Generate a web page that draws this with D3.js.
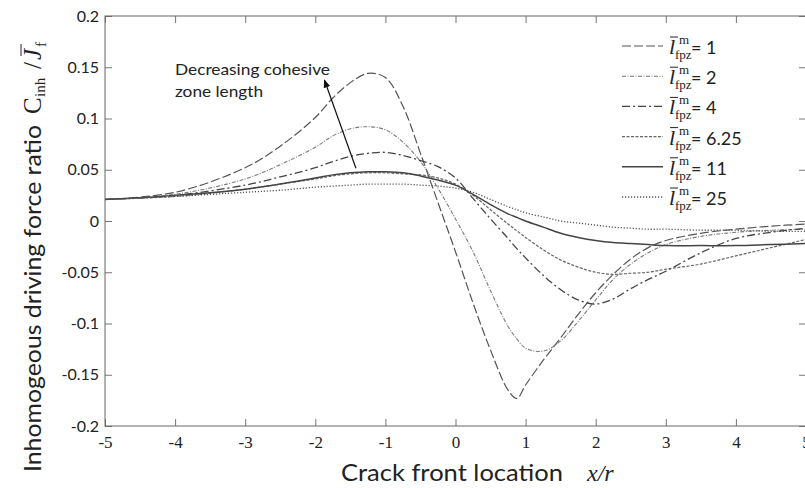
<!DOCTYPE html>
<html lang="en">
  <head>
    <meta charset="UTF-8" />
    <title>Inhomogeneous driving force ratio</title>
    <style>
        body{ margin:0; background:#fff; }
        .axis line{ stroke:#777; stroke-width:1; }
        .axis path{ display:none; }
    </style>
    <script src="https://d3js.org/d3.v7.min.js"></script>
  </head>
  <body>
    <div id="chart"></div>
    <script>
        // crack front location x/r (shared by every curve)
        const xs = [-5,-4,-3,-2.5,-2,-1.75,-1.5,-1.25,-1,-0.75,-0.5,-0.25,0,0.25,0.5,0.75,0.875,1,1.25,1.5,1.75,2,2.25,2.5,2.75,3,3.5,4,4.5,5];
        // C_inh / J_f for each cohesive zone length
        const lfpz1  = [0.021,0.028,0.052,0.073,0.101,0.120,0.135,0.144,0.140,0.112,0.066,0.018,-0.030,-0.080,-0.126,-0.165,-0.173,-0.160,-0.136,-0.114,-0.091,-0.070,-0.052,-0.037,-0.026,-0.019,-0.012,-0.008,-0.005,-0.003];
        const lfpz2  = [0.021,0.026,0.041,0.055,0.072,0.083,0.090,0.092,0.089,0.077,0.058,0.032,0.002,-0.030,-0.068,-0.103,-0.115,-0.124,-0.127,-0.117,-0.098,-0.077,-0.057,-0.042,-0.031,-0.023,-0.015,-0.011,-0.009,-0.008];
        const lfpz4  = [0.021,0.025,0.035,0.043,0.052,0.058,0.063,0.066,0.067,0.064,0.059,0.053,0.042,0.022,0.002,-0.017,-0.027,-0.036,-0.053,-0.067,-0.077,-0.081,-0.076,-0.066,-0.057,-0.049,-0.031,-0.017,-0.011,-0.007];
        const lfpz625= [0.021,0.024,0.031,0.036,0.041,0.044,0.046,0.047,0.047,0.046,0.045,0.042,0.036,0.025,0.011,-0.003,-0.0095,-0.016,-0.028,-0.038,-0.045,-0.050,-0.052,-0.051,-0.050,-0.047,-0.042,-0.034,-0.026,-0.018];
        const lfpz11 = [0.021,0.025,0.031,0.036,0.042,0.045,0.047,0.048,0.048,0.047,0.044,0.040,0.035,0.026,0.016,0.007,0.0035,0.000,-0.006,-0.012,-0.016,-0.019,-0.021,-0.022,-0.023,-0.024,-0.024,-0.024,-0.023,-0.022];
        const lfpz25 = [0.021,0.024,0.028,0.030,0.033,0.034,0.035,0.036,0.036,0.036,0.035,0.034,0.032,0.028,0.021,0.014,0.011,0.008,0.004,0.000,-0.002,-0.004,-0.006,-0.007,-0.008,-0.008,-0.009,-0.009,-0.010,-0.010];
        const legendLabels = ["1","2","4","6.25","11","25"];
        const xTicks = [-5,-4,-3,-2,-1,0,1,2,3,4,5];
        const yTicks = [0.2,0.15,0.1,0.05,0,-0.05,-0.1,-0.15,-0.2];
        // arrow of the annotation, in data units: tail then head
        const arrowPts = [[-1.42,0.0514],[-1.87,0.1376]];

        const series = [lfpz1, lfpz2, lfpz4, lfpz625, lfpz11, lfpz25];
        const styles = [
            {dash:"9,3",         color:"#555", w:1.2},
            {dash:"4,1.5,1,1.5", color:"#7a7a7a", w:1.1},
            {dash:"8,3,2,3",     color:"#444", w:1.3},
            {dash:"3,1.5",       color:"#666", w:1.2},
            {dash:null,          color:"#444", w:1.5},
            {dash:"1.2,1.8",     color:"#555", w:1.3}
        ];
        const SANS = "Lato, 'Open Sans', sans-serif";
        const SERIF = "'Liberation Serif', 'Times New Roman', 'DejaVu Serif', serif";

        let width = 805;
        let height = 488;
        const svg = d3.select("#chart").append("svg")
                    .attr("width", width)
                    .attr("height", height);

        const x = d3.scaleLinear().domain([-5,5]).range([105,806]);
        const y = d3.scaleLinear().domain([-0.2,0.2]).range([426,16]);

        function label(g, fam, size) {
            return g.append("text")
                .style("font-family", fam)
                .style("font-size", size + "px")
                .style("fill", "#222");
        }

        svg.append("defs").append("marker")
            .attr("id","head")
            .attr("viewBox","0 0 10 10")
            .attr("refX",9).attr("refY",5)
            .attr("markerWidth",7).attr("markerHeight",7)
            .attr("orient","auto")
            .append("path")
            .attr("d","M0,1 L10,5 L0,9 Z")
            .attr("fill","#111");

        // axes, ticks inside the box
        const gY = svg.append("g").classed("axis",true)
            .attr("transform",`translate(${x(-5)},0)`)
            .call(d3.axisLeft(y).tickValues(yTicks).tickSize(-7).tickPadding(6)
                  .tickFormat(d=>d===0 ? "0" : String(d)));
        gY.selectAll("text").style("font-family",SANS).style("font-size","16px").style("fill","#222");
        svg.append("g").classed("axis",true)
            .attr("transform",`translate(${x(5)},0)`)
            .call(d3.axisRight(y).tickValues(yTicks).tickSize(-7).tickFormat(""));
        const gX = svg.append("g").classed("axis",true)
            .attr("transform",`translate(0,${y(-0.2)})`)
            .call(d3.axisBottom(x).tickValues(xTicks).tickSize(-7).tickPadding(10)
                  .tickFormat(d=>String(d)));
        gX.selectAll("text").style("font-family",SERIF).style("font-size","17px").style("fill","#222");
        svg.append("g").classed("axis",true)
            .attr("transform",`translate(0,${y(0.2)})`)
            .call(d3.axisTop(x).tickValues(xTicks).tickSize(-7).tickFormat(""));

        svg.append("rect")
            .attr("x",x(-5)).attr("y",y(0.2))
            .attr("width",x(5)-x(-5)).attr("height",y(-0.2)-y(0.2))
            .attr("fill","none").attr("stroke","#666").attr("stroke-width",1);

        const line = d3.line()
            .x((d,i)=>x(xs[i]))
            .y(d=>y(d))
            .curve(d3.curveCatmullRom.alpha(0.5));

        svg.append("g").selectAll("path")
            .data(series)
            .join("path")
            .attr("d",line)
            .attr("fill","none")
            .attr("stroke",(d,i)=>styles[i].color)
            .attr("stroke-width",(d,i)=>styles[i].w)
            .attr("stroke-dasharray",(d,i)=>styles[i].dash);

        // legend
        const leg = svg.append("g").attr("transform","translate(622,46)");
        const rows = leg.selectAll("g").data(legendLabels).join("g")
            .attr("transform",(d,i)=>`translate(0,${i*30.2})`);
        rows.append("line")
            .attr("x1",0).attr("x2",41).attr("y1",0).attr("y2",0)
            .attr("stroke",(d,i)=>styles[i].color)
            .attr("stroke-width",(d,i)=>styles[i].w)
            .attr("stroke-dasharray",(d,i)=>styles[i].dash);
        rows.each(function(d){
            const r = d3.select(this);
            label(r, SERIF, 22).attr("x",47).attr("y",8).style("font-style","italic").text("l");
            r.append("line")
                .attr("x1",48).attr("x2",56).attr("y1",-9).attr("y2",-9)
                .attr("stroke","#222").attr("stroke-width",1);
            label(r, SERIF, 13).attr("x",57).attr("y",-2).text("m");
            label(r, SERIF, 13).attr("x",53).attr("y",13).text("fpz");
            label(r, SANS, 18).attr("x",69).attr("y",8).text("= " + d);
        });

        // annotation
        svg.append("line")
            .attr("x1",x(arrowPts[0][0])).attr("y1",y(arrowPts[0][1]))
            .attr("x2",x(arrowPts[1][0])).attr("y2",y(arrowPts[1][1]))
            .attr("stroke","#111").attr("stroke-width",1.2)
            .attr("marker-end","url(#head)");
        label(svg, SANS, 15).attr("x",175).attr("y",75)
            .attr("textLength",155).attr("lengthAdjust","spacingAndGlyphs")
            .text("Decreasing cohesive");
        label(svg, SANS, 15).attr("x",175).attr("y",97)
            .attr("textLength",88).attr("lengthAdjust","spacingAndGlyphs")
            .text("zone length");

        // x label
        label(svg, SANS, 23).attr("x",341).attr("y",481)
            .attr("textLength",222).attr("lengthAdjust","spacingAndGlyphs")
            .text("Crack front location");
        label(svg, SERIF, 24).attr("x",587).attr("y",481)
            .style("font-style","italic")
            .text("x/r");

        // y label
        const yl = svg.append("g").attr("transform","translate(41,472) rotate(-90)");
        label(yl, SANS, 23).attr("x",0).attr("y",0)
            .attr("textLength",347).attr("lengthAdjust","spacingAndGlyphs")
            .text("Inhomogeous driving force ratio");
        label(yl, SERIF, 25).attr("x",358).attr("y",0).text("C");
        label(yl, SERIF, 15).attr("x",375).attr("y",4).text("inh");
        label(yl, SERIF, 25).attr("x",403).attr("y",0).text("/");
        label(yl, SERIF, 25).attr("x",412).attr("y",0).style("font-style","italic").text("J");
        yl.append("line")
            .attr("x1",416).attr("x2",428).attr("y1",-20).attr("y2",-20)
            .attr("stroke","#222").attr("stroke-width",1);
        label(yl, SERIF, 15).attr("x",425).attr("y",5).text("f");
    </script>
  </body>
</html>
